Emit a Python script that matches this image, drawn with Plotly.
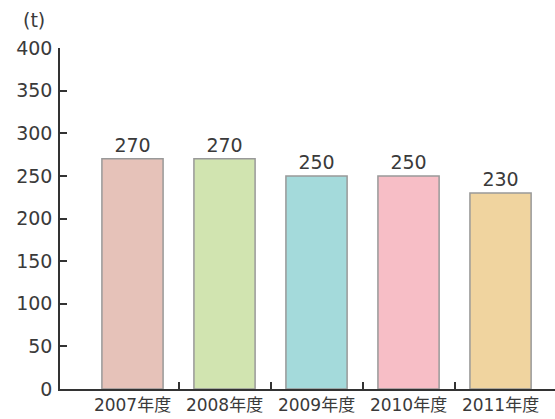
import plotly.graph_objects as go

categories = ["2007年度", "2008年度", "2009年度", "2010年度", "2011年度"]
values = [270, 270, 250, 250, 230]
colors = ["#E6C2B9", "#D1E4B0", "#A4DADB", "#F7BEC6", "#F0D49F"]
y_ticks = [0, 50, 100, 150, 200, 250, 300, 350, 400]

xs = list(range(len(categories)))
font_family = "DejaVu Sans, Noto Sans CJK JP, sans-serif"

fig = go.Figure(go.Bar(
    x=xs, y=values, width=0.665,
    marker=dict(color=colors, line=dict(color="#999999", width=1.5)),
    text=[str(v) for v in values], textposition="outside",
    textfont=dict(size=19, color="#3a3a3a", family=font_family),
    cliponaxis=False,
))

fig.update_layout(
    width=555, height=419,
    margin=dict(l=60, r=0, t=48, b=30),
    plot_bgcolor="white", paper_bgcolor="white",
    showlegend=False,
    font=dict(family=font_family, color="#3a3a3a"),
    xaxis=dict(
        range=[-0.788, 4.592], tickvals=xs, ticktext=categories,
        ticks="", showgrid=False, zeroline=False, automargin=False,
        showline=True, linecolor="#333333", linewidth=1.5,
        tickfont=dict(size=17, color="#3a3a3a"), ticklabelstandoff=0,
        minor=dict(tickvals=[0.5, 1.5, 2.5, 3.5], ticks="inside", ticklen=7,
                   tickcolor="#333333", tickwidth=1.5, showgrid=False),
    ),
    yaxis=dict(
        range=[0, 400], tickvals=y_ticks, ticks="inside", ticklen=7,
        tickcolor="#333333", tickwidth=1.5, automargin=False,
        showgrid=False, zeroline=False,
        showline=True, linecolor="#333333", linewidth=1.5,
        tickfont=dict(size=19, color="#3a3a3a"), ticklabelstandoff=2,
    ),
    annotations=[dict(text="(t)", x=-(60 - 34) / 495, y=1 + (48 - 20) / 341,
                      xref="paper", yref="paper", xanchor="center", yanchor="middle",
                      showarrow=False, font=dict(size=19, color="#3a3a3a"))],
)

fig.write_html("out.html", config={"displayModeBar": False},
               post_script="document.body.style.margin='0';")
